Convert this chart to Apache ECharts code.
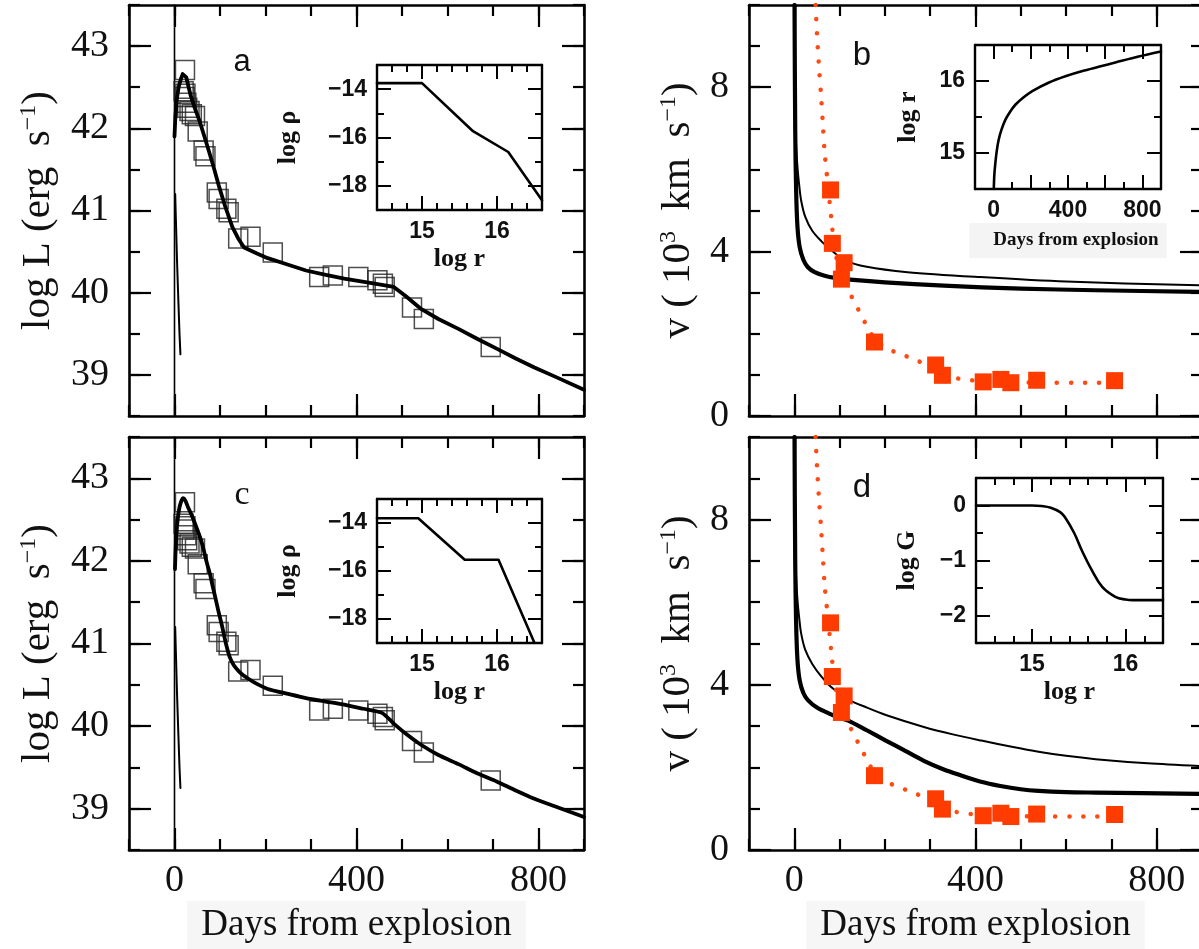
<!DOCTYPE html>
<html><head><meta charset="utf-8">
<script src="https://cdn.jsdelivr.net/npm/echarts@6/dist/echarts.min.js"></script>
<style>html,body{margin:0;padding:0;background:#fff}#c{width:1199px;height:949px}</style>
</head><body><div id="c"></div>
<script>
// ---------------- DATA ----------------
// observed bolometric light curve (panels a, c)
const obsDays = [23, 20, 22, 24, 26, 28, 33, 38, 45, 51, 64, 68, 93, 97, 114, 119, 140, 167, 216, 318, 348, 404, 446, 458, 462, 522, 548, 695];
const obsLogL = [42.71, 42.45, 42.38, 42.42, 42.31, 42.25, 42.21, 42.17, 42.15, 41.96, 41.73, 41.66, 41.22, 41.14, 41.02, 40.98, 40.66, 40.68, 40.49, 40.19, 40.21, 40.19, 40.15, 40.11, 40.07, 39.82, 39.68, 39.34];
// model light curve, panel a
const modelADays = [0, 2, 5, 9, 14, 18, 22, 26, 31, 36, 45, 55, 64, 73, 86, 98, 112, 127, 140, 153, 180, 205, 250, 289, 330, 373, 430, 482, 510, 540, 580, 624, 665, 708, 750, 791, 840, 900];
const modelALogL = [41.9, 42.15, 42.35, 42.5, 42.6, 42.66, 42.68, 42.62, 42.5, 42.39, 42.24, 42.09, 41.93, 41.77, 41.53, 41.29, 41.04, 40.8, 40.66, 40.55, 40.48, 40.42, 40.34, 40.27, 40.22, 40.17, 40.12, 40.07, 39.95, 39.81, 39.68, 39.56, 39.44, 39.32, 39.2, 39.09, 38.97, 38.82];
// model light curve, panel c
const modelCDays = [1, 3, 6, 10, 14, 19, 24, 29, 38, 46, 54, 62, 70, 78, 84, 90, 97, 105, 113, 121, 130, 142, 155, 175, 205, 250, 289, 330, 373, 415, 456, 482, 510, 540, 580, 624, 665, 708, 750, 791, 840, 900];
const modelCLogL = [41.9, 42.2, 42.45, 42.62, 42.71, 42.76, 42.73, 42.66, 42.55, 42.44, 42.32, 42.18, 42.0, 41.84, 41.69, 41.55, 41.38, 41.2, 41.0, 40.84, 40.74, 40.66, 40.6, 40.53, 40.45, 40.39, 40.34, 40.3, 40.26, 40.21, 40.16, 40.03, 39.9, 39.78, 39.65, 39.54, 39.43, 39.33, 39.22, 39.12, 39.02, 38.9];
// thin early spike (panels a, c)
const spikeDays = [1.5, 3, 5.5, 8.5, 11, 13];
const spikeLogL = [41.2, 40.9, 40.4, 39.9, 39.5, 39.25];
// explosion epoch marker
const zeroDays = [0, 0];
const zeroLogL = [38.5, 43.5];

// observed velocities (panels b, d), 10^3 km/s
const velDays = [80, 84, 110, 104, 177, 312, 327, 417, 456, 478, 535, 707];
const velObs = [5.5, 4.2, 3.73, 3.33, 1.8, 1.24, 0.99, 0.83, 0.89, 0.81, 0.87, 0.86];
// dotted fit through the velocities
const fitDays = [47, 50, 54.5, 59, 63, 67, 73, 78, 83, 88, 95, 105, 122, 135, 150, 164, 180, 206, 236, 265, 300, 330, 358, 390, 430, 500, 573, 620, 665, 707];
const fitVel = [10.0, 9.3, 8.5, 7.8, 7.1, 6.4, 5.75, 5.2, 4.65, 4.15, 3.75, 3.35, 3.0, 2.72, 2.41, 2.1, 1.85, 1.64, 1.5, 1.38, 1.2, 1.03, 0.92, 0.87, 0.84, 0.82, 0.81, 0.81, 0.81, 0.82];
// model velocities, panel b
const bThickDays = [0.5, 2, 4, 7, 12, 20, 30, 45, 65, 90, 130, 200, 330, 500, 665, 900];
const bThickVel = [10, 7, 5.5, 4.6, 4.1, 3.8, 3.62, 3.5, 3.42, 3.36, 3.31, 3.25, 3.17, 3.1, 3.06, 3.02];
const bThinDays = [0.5, 2, 4, 7.4, 11, 15, 24, 40, 60, 80, 110, 160, 250, 410, 600, 900];
const bThinVel = [10, 7.5, 6.6, 6.0, 5.6, 5.25, 4.85, 4.5, 4.25, 4.05, 3.8, 3.63, 3.5, 3.38, 3.27, 3.18];
// model velocities, panel d
const dThickDays = [0.5, 2, 4, 7, 12, 20, 30, 50, 76, 100, 118, 160, 202, 245, 286, 330, 370, 410, 455, 500, 539, 600, 665, 900];
const dThickVel = [10, 7, 5.5, 4.6, 4.1, 3.8, 3.63, 3.45, 3.31, 3.2, 3.14, 2.9, 2.65, 2.4, 2.16, 1.95, 1.8, 1.66, 1.55, 1.47, 1.43, 1.4, 1.39, 1.36];
const dThinDays = [0.5, 2, 4, 7.4, 11, 15, 24, 40, 60, 84, 118, 160, 202, 286, 350, 413, 480, 539, 600, 665, 780, 900];
const dThinVel = [10, 7.5, 6.6, 6.0, 5.6, 5.25, 4.85, 4.5, 4.2, 3.92, 3.65, 3.45, 3.27, 2.98, 2.8, 2.65, 2.5, 2.38, 2.28, 2.2, 2.1, 2.03];

// insets
const rhoALogR = [14.4, 15.0, 15.68, 16.15, 16.6];
const rhoALogRho = [-13.75, -13.75, -15.74, -16.6, -18.6];
const rhoCLogR = [14.4, 14.95, 15.57, 16.02, 16.5];
const rhoCLogRho = [-13.8, -13.8, -15.53, -15.53, -19.0];
const radDays = [1, 4, 9, 17, 27, 42, 63, 88, 117, 160, 208, 298, 390, 478, 570, 659, 780, 900];
const radLogR = [14.5, 14.7, 14.85, 15.03, 15.18, 15.32, 15.46, 15.57, 15.67, 15.77, 15.86, 15.98, 16.07, 16.14, 16.2, 16.26, 16.34, 16.41];
const gLogR = [14.4, 15.0, 15.1, 15.2, 15.3, 15.35, 15.45, 15.53, 15.64, 15.75, 15.89, 16.0, 16.08, 16.4];
const gLogG = [0, 0, -0.01, -0.04, -0.12, -0.21, -0.5, -0.81, -1.18, -1.48, -1.66, -1.71, -1.72, -1.72];

// tick labels
const dayTicks = [0, 400, 800];
const logLTicks = [39, 40, 41, 42, 43];
const velTicks = [0, 4, 8];
const rhoTicks = [-18, -16, -14];
const logRTicks = [15, 16];
const insetDayMajor = [0, 200, 400, 600, 800];
const insetDayLabels = [0, 400, 800];
const logGTicks = [-2, -1, 0];

// ---------------- HELPERS ----------------
const zip = (xs, ys) => xs.map((x, i) => [x, ys[i]]);
const SERIF = 'Liberation Serif';
const SANS = 'Liberation Sans';
const minusFmt = v => (v < 0 ? '\u2212' + Math.abs(v) : String(v));

const xAxes = [], yAxes = [];
function addAxes(list, grid, isX, s) {
  const posMain = isX ? 'bottom' : 'left';
  const posMirror = isX ? 'top' : 'right';
  const base = {gridIndex: grid, type: 'value', min: s.min, max: s.max,
    splitLine: {show: false}, splitArea: {show: false}, axisPointer: {show: false}, silent: true};
  const tickStyle = {color: '#000', width: s.tickW};
  const idx = list.length;
  [posMain, posMirror].forEach((pos, k) => {
    list.push(Object.assign({}, base, {position: pos, interval: s.minor,
      axisLine: {show: true, onZero: false, lineStyle: {color: '#000', width: s.lineW}},
      axisTick: {show: true, inside: true, length: s.minorLen, lineStyle: tickStyle},
      axisLabel: {show: false}}));
    const major = Object.assign({}, base, {position: pos,
      axisLine: {show: false, onZero: false},
      axisTick: {show: true, inside: true, length: s.majorLen, customValues: s.majors, lineStyle: tickStyle},
      axisLabel: {show: false}});
    if (k === 0 && s.labels) {
      major.axisLabel = Object.assign({show: true, customValues: s.labels, margin: s.margin,
        formatter: minusFmt}, s.labelStyle);
    }
    if (k === 0 && s.name) {
      Object.assign(major, {name: s.name, nameLocation: 'middle', nameGap: s.nameGap,
        nameRotate: isX ? 0 : 90, nameTextStyle: s.nameStyle});
    }
    list.push(major);
  });
  return idx;
}

const mainTickLabel = {fontFamily: SERIF, fontSize: 38, color: '#111'};
const insetTickLabel = {fontFamily: SANS, fontSize: 23, fontWeight: 'bold', color: '#111'};
const daysName = {fontFamily: SERIF, fontSize: 37, color: '#111', backgroundColor: '#f6f6f6', padding: [6, 14, 10, 14]};
const supRich = {sup: {fontFamily: SERIF, fontSize: 24, color: '#111', padding: [0, 0, 18, 0]}};
const yNameStyle = {fontFamily: SERIF, fontSize: 41, color: '#111', rich: supRich};
const insetNameStyle = {fontFamily: SERIF, fontSize: 26, fontWeight: 'bold', color: '#111'};

const grids = [
  {left: 129, top: 5, width: 455, height: 411},     // 0 a
  {left: 749, top: 5, width: 453, height: 411},     // 1 b
  {left: 129, top: 437, width: 455, height: 413},   // 2 c
  {left: 749, top: 437, width: 453, height: 413},   // 3 d
  {left: 377, top: 65, width: 165, height: 145},    // 4 inset a
  {left: 975, top: 45, width: 186, height: 144},    // 5 inset b
  {left: 377, top: 499, width: 165, height: 144},   // 6 inset c
  {left: 976, top: 478, width: 187, height: 165}    // 7 inset d
].map(g => Object.assign({containLabel: false, outerBoundsMode: 'none', show: false}, g));

const mainX = (g, withLabels) => addAxes(xAxes, g, true, {min: -100, max: 900, minor: 100, majors: dayTicks,
  labels: withLabels ? dayTicks : null, minorLen: 11, majorLen: 22, tickW: 2.2, lineW: 2.6, margin: 12,
  labelStyle: mainTickLabel, name: withLabels ? 'Days from explosion' : null, nameGap: 46, nameStyle: daysName});
const lumY = (g) => addAxes(yAxes, g, false, {min: 38.5, max: 43.5, minor: 0.5, majors: logLTicks, labels: logLTicks,
  minorLen: 11, majorLen: 22, tickW: 2.2, lineW: 2.6, margin: 20, labelStyle: mainTickLabel,
  name: 'log L (erg  s{sup|\u22121})', nameGap: 70, nameStyle: yNameStyle});
const velY = (g) => addAxes(yAxes, g, false, {min: 0, max: 10, minor: 1, majors: velTicks, labels: velTicks,
  minorLen: 11, majorLen: 22, tickW: 2.2, lineW: 2.6, margin: 20, labelStyle: mainTickLabel,
  name: 'v ( 10{sup|3}  km  s{sup|\u22121})', nameGap: 50, nameStyle: yNameStyle});

const ax = {};
ax.aX = mainX(0, false); ax.aY = lumY(0);
ax.bX = mainX(1, false); ax.bY = velY(1);
ax.cX = mainX(2, true);  ax.cY = lumY(2);
ax.dX = mainX(3, true);  ax.dY = velY(3);

const insetCommon = {minorLen: 7, majorLen: 14, tickW: 2, lineW: 2.4, margin: 10, labelStyle: insetTickLabel, nameStyle: insetNameStyle};
const rhoX = (g) => addAxes(xAxes, g, true, Object.assign({}, insetCommon, {min: 14.4, max: 16.6, minor: 0.2, majors: logRTicks, labels: logRTicks, name: 'log r', nameGap: 36}));
const rhoY = (g) => addAxes(yAxes, g, false, Object.assign({}, insetCommon, {min: -19, max: -13, minor: 1, majors: rhoTicks, labels: rhoTicks, name: 'log \u03c1', nameGap: 76}));
ax.iaX = rhoX(4); ax.iaY = rhoY(4);
ax.icX = rhoX(6); ax.icY = rhoY(6);
ax.ibX = addAxes(xAxes, 5, true, Object.assign({}, insetCommon, {min: -100, max: 900, minor: 100, majors: insetDayMajor, labels: insetDayLabels,
  name: 'Days from explosion', nameGap: 32,
  nameStyle: {fontFamily: SERIF, fontSize: 19, fontWeight: 'bold', color: '#111', backgroundColor: '#f4f4f4', padding: [8, 8, 8, 24]}}));
ax.ibY = addAxes(yAxes, 5, false, Object.assign({}, insetCommon, {min: 14.5, max: 16.5, minor: 0.5, majors: logRTicks, labels: logRTicks, name: 'log r', nameGap: 54}));
ax.idX = addAxes(xAxes, 7, true, Object.assign({}, insetCommon, {min: 14.4, max: 16.4, minor: 0.2, majors: logRTicks, labels: logRTicks, name: 'log r', nameGap: 36}));
ax.idY = addAxes(yAxes, 7, false, Object.assign({}, insetCommon, {min: -2.5, max: 0.5, minor: 0.5, majors: logGTicks, labels: logGTicks, name: 'log G', nameGap: 56}));

const line = (xi, yi, data, width, extra) => Object.assign({type: 'line', xAxisIndex: xi, yAxisIndex: yi, data,
  showSymbol: false, symbol: 'none', clip: true, silent: true,
  lineStyle: {color: '#000', width: width, join: 'round', cap: 'round'}}, extra || {});
const openSquares = (xi, yi) => ({type: 'scatter', xAxisIndex: xi, yAxisIndex: yi, data: zip(obsDays, obsLogL),
  symbol: 'rect', symbolSize: 19, silent: true, z: 4,
  itemStyle: {color: 'rgba(0,0,0,0)', borderColor: '#222', borderWidth: 1.5}});
const redSquares = (xi, yi) => ({type: 'scatter', xAxisIndex: xi, yAxisIndex: yi, data: zip(velDays, velObs),
  symbol: 'rect', symbolSize: 17, silent: true, z: 6, itemStyle: {color: '#ff3c00', opacity: 1}});
const dotted = (xi, yi) => line(xi, yi, zip(fitDays, fitVel), 4.5, {smooth: 0.3, z: 5,
  lineStyle: {color: '#ff4a12', width: 4.5, type: [0.1, 14], cap: 'round'}});

const series = [
  // panel a
  line(ax.aX, ax.aY, zip(zeroDays, zeroLogL), 1.6),
  line(ax.aX, ax.aY, zip(spikeDays, spikeLogL), 2),
  openSquares(ax.aX, ax.aY),
  line(ax.aX, ax.aY, zip(modelADays, modelALogL), 3.8, {z: 5}),
  // panel c
  line(ax.cX, ax.cY, zip(zeroDays, zeroLogL), 1.6),
  line(ax.cX, ax.cY, zip(spikeDays, spikeLogL), 2),
  openSquares(ax.cX, ax.cY),
  line(ax.cX, ax.cY, zip(modelCDays, modelCLogL), 3.8, {z: 5, smooth: 0.2}),
  // panel b
  line(ax.bX, ax.bY, zip(bThinDays, bThinVel), 2, {smooth: 0.3}),
  line(ax.bX, ax.bY, zip(bThickDays, bThickVel), 4.2, {smooth: 0.3}),
  dotted(ax.bX, ax.bY),
  redSquares(ax.bX, ax.bY),
  // panel d
  line(ax.dX, ax.dY, zip(dThinDays, dThinVel), 2, {smooth: 0.3}),
  line(ax.dX, ax.dY, zip(dThickDays, dThickVel), 4.2, {smooth: 0.3}),
  dotted(ax.dX, ax.dY),
  redSquares(ax.dX, ax.dY),
  // insets
  line(ax.iaX, ax.iaY, zip(rhoALogR, rhoALogRho), 2.6),
  line(ax.icX, ax.icY, zip(rhoCLogR, rhoCLogRho), 2.6),
  line(ax.ibX, ax.ibY, zip(radDays, radLogR), 2.6, {smooth: 0.3}),
  line(ax.idX, ax.idY, zip(gLogR, gLogG), 2.6, {smooth: 0.4})
];

const letter = (t, x, y, fam, size) => ({type: 'text', x, y, silent: true,
  style: {text: t, fontFamily: fam, fontSize: size, fill: '#111', align: 'center', verticalAlign: 'middle'}});

const chart = echarts.init(document.getElementById('c'), null, {renderer: 'canvas'});
chart.setOption({
  animation: false,
  backgroundColor: '#fff',
  grid: grids,
  xAxis: xAxes,
  yAxis: yAxes,
  series: series,
  graphic: [
    letter('a', 242, 62, SANS, 31),
    letter('b', 862, 56, SANS, 33),
    letter('c', 242, 495, SERIF, 34),
    letter('d', 862, 488, SANS, 33)
  ]
});
</script></body></html>
